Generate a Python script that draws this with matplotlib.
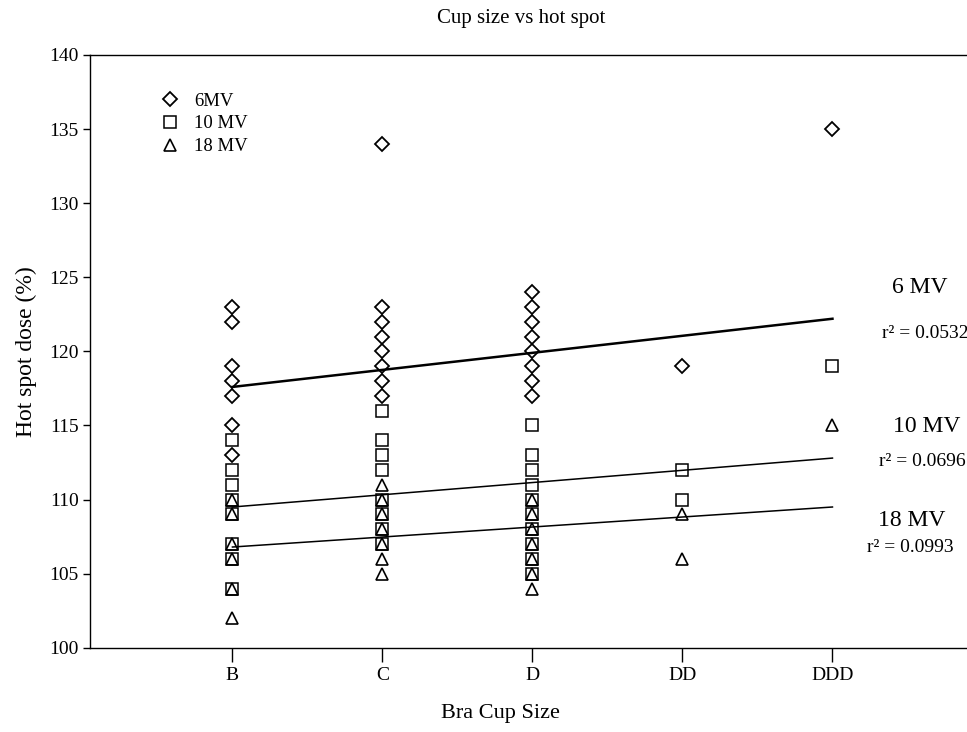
import matplotlib
matplotlib.use("Agg")
import matplotlib.pyplot as plt

plt.rcParams['font.family'] = ['Liberation Serif', 'DejaVu Serif']

# categories on the x axis
cups = ['B', 'C', 'D', 'DD', 'DDD']

# hot spot dose (%) per cup size
mv6 = [
    [123, 122, 119, 118, 117, 115, 113],
    [134, 123, 122, 121, 120, 119, 118, 117],
    [124, 123, 122, 121, 120, 119, 118, 117],
    [119],
    [135],
]
mv10 = [
    [114, 112, 111, 110, 109, 107, 106, 104],
    [116, 114, 113, 112, 110, 109, 108, 107],
    [115, 113, 112, 111, 110, 109, 108, 107, 106, 105],
    [112, 110],
    [119],
]
mv18 = [
    [110, 109, 107, 106, 104, 102],
    [111, 110, 109, 108, 107, 106, 105],
    [110, 109, 108, 107, 106, 105, 104],
    [109, 106],
    [115],
]

# linear fit values at B and at DDD
fit6 = [117.6, 122.2]
fit10 = [109.5, 112.8]
fit18 = [106.8, 109.5]

r2_labels = ['r\u00b2 = 0.0532', 'r\u00b2 = 0.0696', 'r\u00b2 = 0.0993']


def flatten(groups):
    xs, ys = [], []
    for i, g in enumerate(groups):
        xs += [i + 1] * len(g)
        ys += g
    return xs, ys


fig = plt.figure(figsize=(9.67, 7.32), dpi=100)
ax = fig.add_axes([0.093, 0.115, 0.923, 0.81])

x6, y6 = flatten(mv6)
x10, y10 = flatten(mv10)
x18, y18 = flatten(mv18)

ax.plot(x6, y6, 'D', ms=7, mfc='none', mec='black', mew=1.3, ls='none', label='6MV')
ax.plot(x10, y10, 's', ms=9, mfc='none', mec='black', mew=1.1, ls='none', label='10 MV')
ax.plot(x18, y18, '^', ms=9, mfc='none', mec='black', mew=1.2, ls='none', label='18 MV')

ends = [1, len(cups)]
ax.plot(ends, fit6, color='black', lw=1.8)
ax.plot(ends, fit10, color='black', lw=1.1)
ax.plot(ends, fit18, color='black', lw=1.1)

# fit labels at the right
ax.text(5.58, 124.3, '6 MV', ha='center', va='center', fontsize=17)
ax.text(5.62, 121.2, r2_labels[0], ha='center', va='center', fontsize=14)
ax.text(5.63, 114.9, '10 MV', ha='center', va='center', fontsize=17)
ax.text(5.6, 112.6, r2_labels[1], ha='center', va='center', fontsize=14)
ax.text(5.53, 108.6, '18 MV', ha='center', va='center', fontsize=17)
ax.text(5.52, 106.8, r2_labels[2], ha='center', va='center', fontsize=14)

ax.set_xlim(0.05, 6.0)
ax.set_ylim(100, 140)
ax.set_xticks(range(1, len(cups) + 1))
ax.set_xticklabels(cups)
ax.set_yticks(range(100, 141, 5))
ax.tick_params(axis='both', labelsize=14, direction='out', width=1)
ax.tick_params(axis='x', length=10, pad=4)
ax.tick_params(axis='y', length=5, pad=3)
ax.spines['right'].set_visible(False)
for s in ['left', 'top', 'bottom']:
    ax.spines[s].set_linewidth(1.0)

ax.set_xlabel('Bra Cup Size', fontsize=16)
ax.xaxis.set_label_coords(0.46, -0.095)
ax.set_ylabel('Hot spot dose (%)', fontsize=17, labelpad=9)
fig.text(0.539, 0.975, 'Cup size vs hot spot', ha='center', va='center', fontsize=15)

ax.legend(loc='upper left', bbox_to_anchor=(0.06, 0.965), frameon=False, fontsize=13.5,
          handletextpad=0.8, labelspacing=0.3, handlelength=1.0)

fig.savefig('out.png', dpi=100)
